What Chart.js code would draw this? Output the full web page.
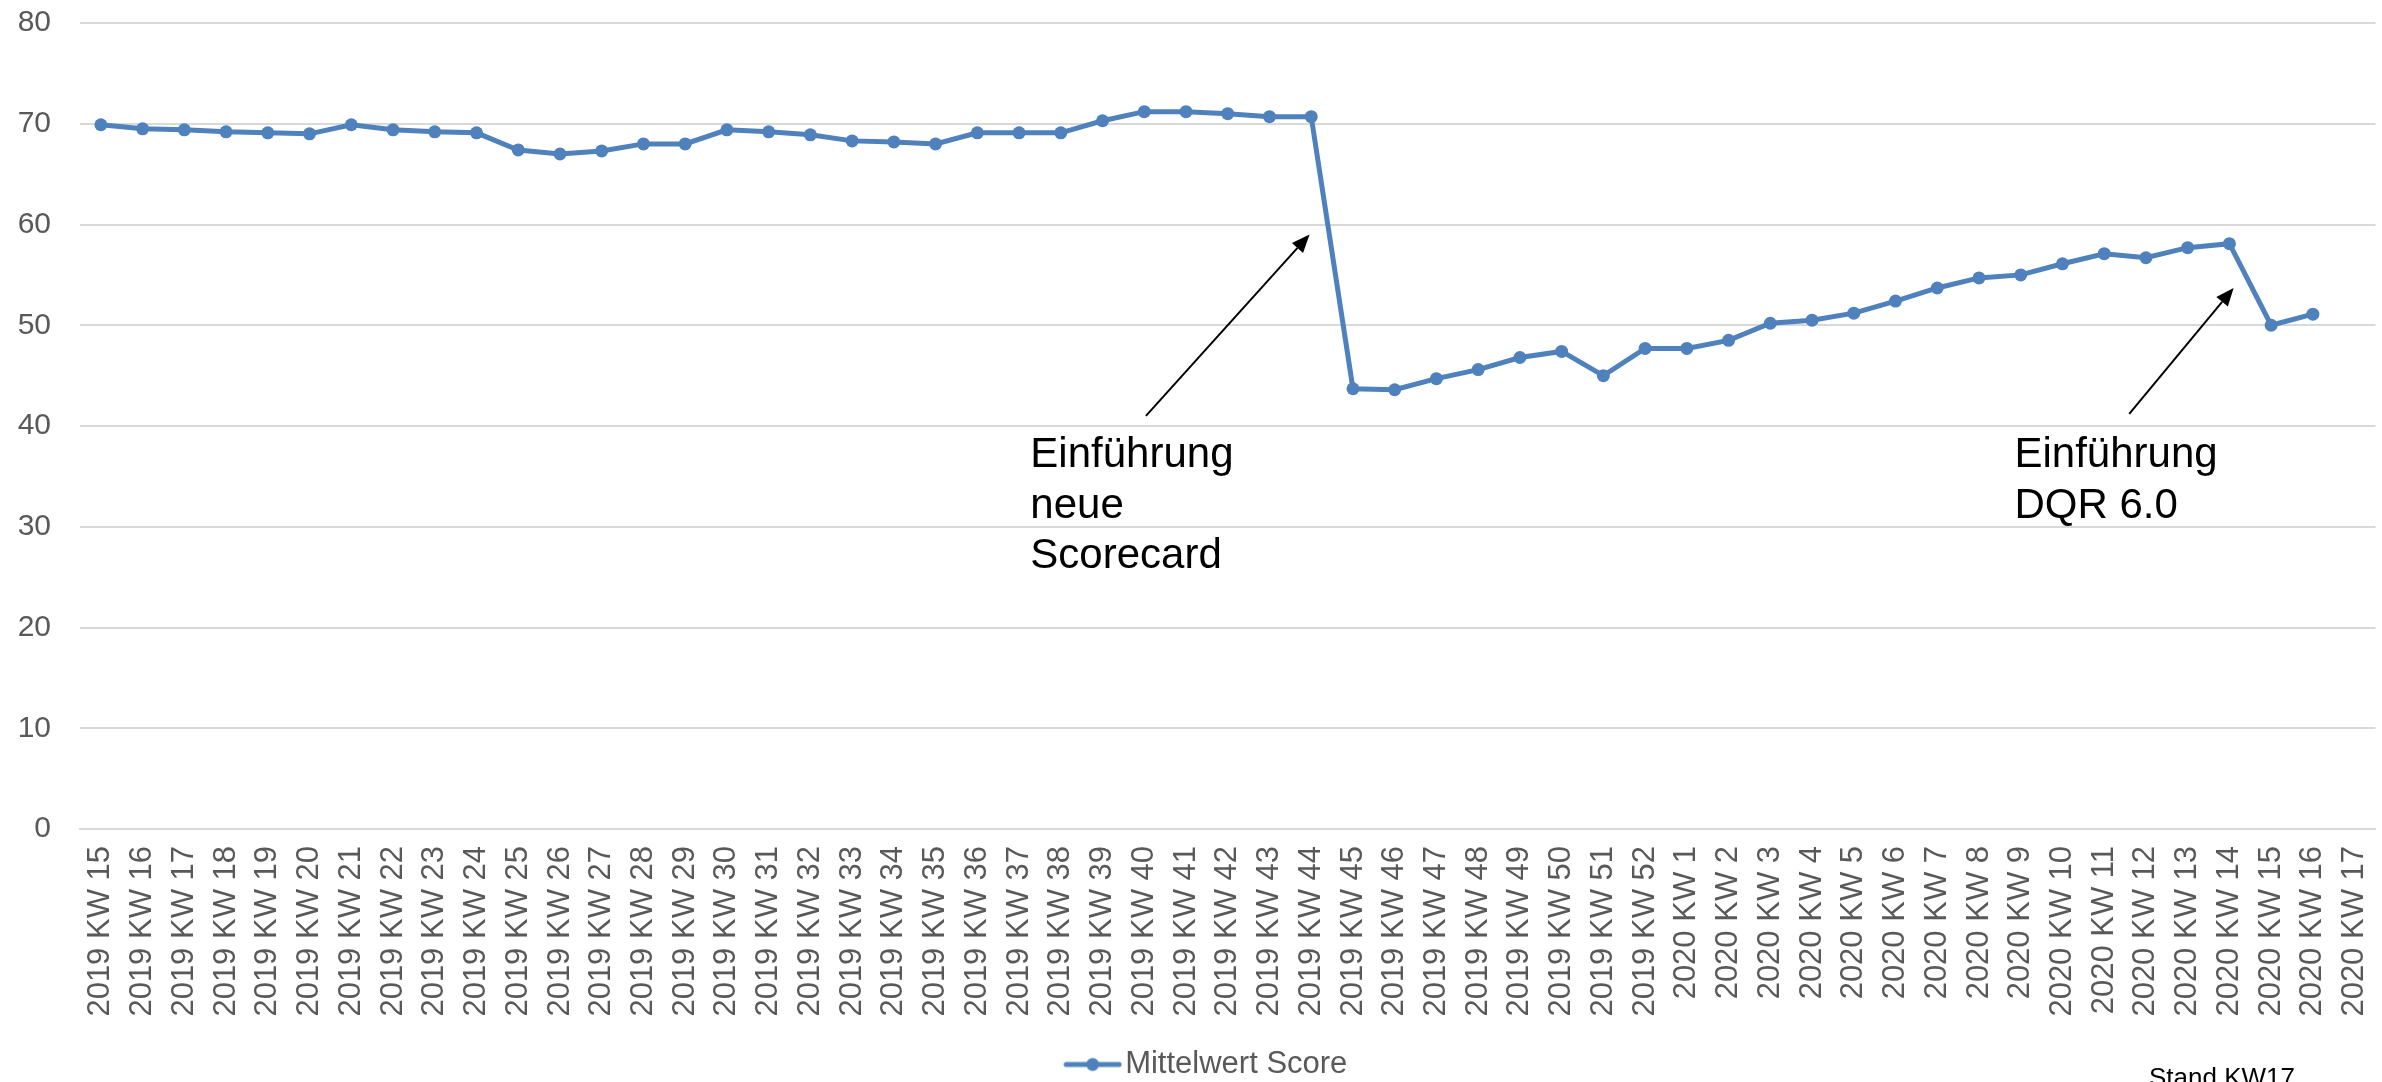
<!DOCTYPE html>
<html>
<head>
<meta charset="utf-8">
<script src="https://cdn.jsdelivr.net/npm/chart.js@4/dist/chart.umd.min.js"></script>
<style>
  html, body { margin: 0; padding: 0; background: #ffffff; }
  #wrap { position: relative; width: 2382px; height: 1082px; }
</style>
</head>
<body>
<div id="wrap"><canvas id="c"></canvas></div>
<script>
// ---- data ----
const categories = [
  "2019 KW 15","2019 KW 16","2019 KW 17","2019 KW 18","2019 KW 19","2019 KW 20","2019 KW 21","2019 KW 22",
  "2019 KW 23","2019 KW 24","2019 KW 25","2019 KW 26","2019 KW 27","2019 KW 28","2019 KW 29","2019 KW 30",
  "2019 KW 31","2019 KW 32","2019 KW 33","2019 KW 34","2019 KW 35","2019 KW 36","2019 KW 37","2019 KW 38",
  "2019 KW 39","2019 KW 40","2019 KW 41","2019 KW 42","2019 KW 43","2019 KW 44","2019 KW 45","2019 KW 46",
  "2019 KW 47","2019 KW 48","2019 KW 49","2019 KW 50","2019 KW 51","2019 KW 52",
  "2020 KW 1","2020 KW 2","2020 KW 3","2020 KW 4","2020 KW 5","2020 KW 6","2020 KW 7","2020 KW 8",
  "2020 KW 9","2020 KW 10","2020 KW 11","2020 KW 12","2020 KW 13","2020 KW 14","2020 KW 15","2020 KW 16",
  "2020 KW 17"
];
const seriesName = "Mittelwert Score";
const scoreValues = [
  69.9, 69.5, 69.4, 69.2, 69.1, 69.0, 69.9, 69.4, 69.2, 69.1,
  67.4, 67.0, 67.3, 68.0, 68.0, 69.4, 69.2, 68.9, 68.3, 68.2,
  68.0, 69.1, 69.1, 69.1, 70.3, 71.2, 71.2, 71.0, 70.7, 70.7,
  43.7, 43.6, 44.7, 45.6, 46.8, 47.4, 45.0, 47.7,
  47.7, 48.5, 50.2, 50.5, 51.2, 52.4, 53.7, 54.7, 55.0, 56.1,
  57.1, 56.7, 57.7, 58.1, 50.0, 51.1, null
];
const yTicks = [0, 10, 20, 30, 40, 50, 60, 70, 80];
const noteTexts = [
  ["Einführung", "neue", "Scorecard"],
  ["Einführung", "DQR 6.0"]
];
const footnote = "Stand KW17";

// ---- annotation placement (category index / axis value) ----
const notePlacement = [
  { textX: 22.27, textY: 35.9, tail: [25.04, 41.0], tip: [28.96, 59.0] },
  { textX: 45.85, textY: 35.9, tail: [48.6, 41.2], tip: [51.1, 53.7] }
];

const FONT = "'Liberation Sans', Arial, sans-serif";
const BLUE = '#4F81BD';
const GRID = '#D9D9D9';
const TICK = '#595959';

// legend icon: line with dot
const legendIcon = document.createElement('canvas');
legendIcon.width = 100; legendIcon.height = 16;
(function () {
  const g = legendIcon.getContext('2d');
  g.strokeStyle = BLUE; g.lineWidth = 5; g.lineCap = 'round';
  g.beginPath(); g.moveTo(44, 8); g.lineTo(97, 8); g.stroke();
  g.fillStyle = BLUE; g.beginPath(); g.arc(70.5, 8, 6.5, 0, Math.PI * 2); g.fill();
})();

const notesPlugin = {
  id: 'notes',
  afterDraw(chart) {
    const ctx = chart.ctx;
    const xs = chart.scales.x, ys = chart.scales.y;
    ctx.save();
    notePlacement.forEach((p, i) => {
      ctx.fillStyle = '#000000';
      ctx.font = '42px ' + FONT;
      ctx.textAlign = 'left';
      ctx.textBaseline = 'alphabetic';
      const tx = xs.getPixelForValue(p.textX);
      const ty = ys.getPixelForValue(p.textY);
      noteTexts[i].forEach((line, k) => ctx.fillText(line, tx, ty + k * 50.5));
      const x1 = xs.getPixelForValue(p.tail[0]), y1 = ys.getPixelForValue(p.tail[1]);
      const x2 = xs.getPixelForValue(p.tip[0]), y2 = ys.getPixelForValue(p.tip[1]);
      const ang = Math.atan2(y2 - y1, x2 - x1);
      const hl = 18, hw = 7.5;
      const bx = x2 - hl * Math.cos(ang), by = y2 - hl * Math.sin(ang);
      ctx.strokeStyle = '#000000'; ctx.lineWidth = 2;
      ctx.beginPath(); ctx.moveTo(x1, y1); ctx.lineTo(bx, by); ctx.stroke();
      ctx.beginPath();
      ctx.moveTo(x2, y2);
      ctx.lineTo(bx + hw * Math.sin(ang), by - hw * Math.cos(ang));
      ctx.lineTo(bx - hw * Math.sin(ang), by + hw * Math.cos(ang));
      ctx.closePath(); ctx.fillStyle = '#000000'; ctx.fill();
    });
    ctx.font = '26px ' + FONT;
    ctx.fillStyle = '#000000';
    ctx.textAlign = 'left';
    ctx.textBaseline = 'alphabetic';
    ctx.fillText(footnote, 2149, 1086);
    ctx.restore();
  }
};

new Chart(document.getElementById('c'), {
  type: 'line',
  data: {
    labels: categories,
    datasets: [{
      label: seriesName,
      data: scoreValues,
      borderColor: BLUE,
      backgroundColor: BLUE,
      borderWidth: 5,
      pointRadius: 6.5,
      pointBackgroundColor: BLUE,
      pointBorderWidth: 0,
      tension: 0,
      spanGaps: false,
      fill: false
    }]
  },
  options: {
    responsive: true,
    maintainAspectRatio: false,
    animation: false,
    layout: { padding: { left: 0, right: 0, top: 23, bottom: -8 } },
    scales: {
      x: {
        offset: true,
        grid: { display: false, drawTicks: false },
        border: { display: true, color: GRID, width: 2 },
        ticks: {
          autoSkip: false, minRotation: 90, maxRotation: 90, padding: 17,
          color: TICK, font: { family: FONT, size: 31 }
        },
        afterFit(scale) {
          scale.height = 210;
          scale.paddingLeft = 0; scale.paddingRight = 0;
        }
      },
      y: {
        min: 0, max: 80,
        afterBuildTicks(scale) { scale.ticks = yTicks.map(v => ({ value: v })); },
        grid: { color: GRID, lineWidth: 2, drawTicks: false },
        border: { display: false },
        ticks: { padding: 29, color: TICK, font: { family: FONT, size: 30 } },
        afterFit(scale) {
          scale.width = 80;
          scale.paddingTop = 0; scale.paddingBottom = 0;
        }
      }
    },
    plugins: {
      legend: {
        position: 'bottom',
        labels: {
          usePointStyle: true,
          pointStyleWidth: 75,
          padding: 10,
          color: TICK,
          font: { family: FONT, size: 31 },
          generateLabels(chart) {
            const items = Chart.defaults.plugins.legend.labels.generateLabels(chart);
            items.forEach(it => { it.pointStyle = legendIcon; });
            return items;
          }
        }
      },
      tooltip: { enabled: false }
    }
  },
  plugins: [notesPlugin]
});
</script>
</body>
</html>
